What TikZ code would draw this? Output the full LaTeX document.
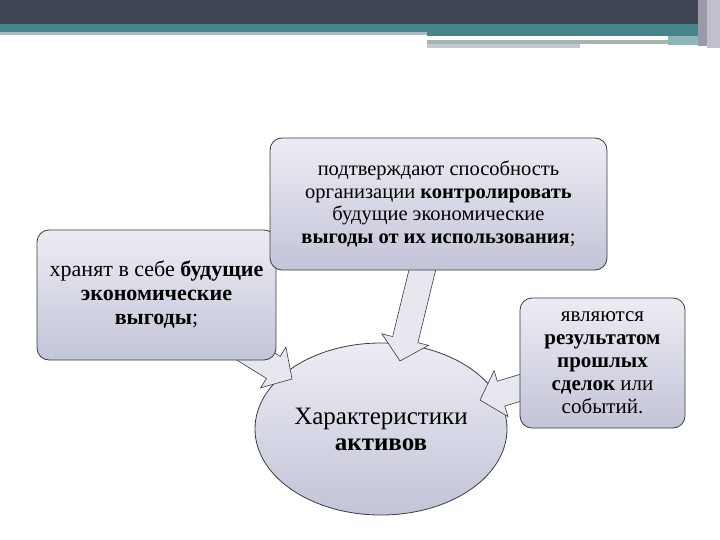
\documentclass[tikz,border=0pt]{standalone}
\usepackage{fontspec}
\setmainfont{Liberation Serif}
\usetikzlibrary{shapes,positioning,calc}
\definecolor{dfslate}{RGB}{63,68,84}
\definecolor{dfteal}{RGB}{70,133,137}
\definecolor{dfmist}{RGB}{169,188,192}
\definecolor{dfgrey}{RGB}{168,180,180}
\definecolor{dfpale}{RGB}{140,182,186}
\definecolor{dfside}{RGB}{192,192,204}
\definecolor{dfside2}{RGB}{154,154,170}
\definecolor{dfedge}{RGB}{60,60,64}
\definecolor{dflight}{RGB}{236,237,243}
\definecolor{dfdark}{RGB}{194,196,216}
\definecolor{dfarrow}{RGB}{230,231,239}
\tikzstyle{card} = [rectangle, rounded corners=12pt, draw=dfedge, line width=0.8pt, top color=dflight, bottom color=dfdark, align=center, inner sep=0pt]
\tikzstyle{core} = [ellipse, draw=dfedge, line width=0.8pt, top color=dflight, bottom color=dfdark, align=center, inner sep=0pt]
\tikzstyle{fat} = [draw=dfedge, line width=0.6pt, fill=dfarrow]
\newcommand{\fatarrow}[2]{\path[fat] let \p1=(#1), \p2=(#2), \n1={atan2(\y2-\y1,\x2-\x1)}, \n2={veclen(\x2-\x1,\y2-\y1)} in [shift={(\p1)}, rotate=\n1] (0pt,-13pt) -- (\n2-22pt,-13pt) -- (\n2-22pt,-24pt) -- (\n2,0pt) -- (\n2-22pt,24pt) -- (\n2-22pt,13pt) -- (0pt,13pt) -- cycle;}
\pgfdeclarelayer{bg}
\pgfdeclarelayer{mid}
\pgfsetlayers{bg,mid,main}

\begin{document}
\begin{tikzpicture}[x=1pt, y=-1pt]
\useasboundingbox (0,0) rectangle (720,540);
\begin{pgfonlayer}{bg}
\fill[white] (0,0) rectangle (720,540);

% Header bars
\fill[dfslate] (0,0) rectangle (703,24);
\fill[dfteal] (0,24) rectangle (703,32);
\fill[dfteal] (427,32) rectangle (703,36);
\fill[dfmist] (0,32) rectangle (427,35);
\fill[dfpale] (668,36) rectangle (703,45);
\fill[dfgrey] (427,40) rectangle (668,44);
\fill[dfgrey!70] (427,44) rectangle (580,48);
\fill[dfside2] (698,0) rectangle (707,46);
\fill[dfside] (707,0) rectangle (720,48);

% Centre
\node (assets) [core, minimum width=252pt, minimum height=172pt, font=\fontsize{25}{26}\selectfont] at (381,429) {Характеристики\\ \textbf{активов}};
\end{pgfonlayer}

% Feature boxes
\node (store) [card, minimum width=239pt, minimum height=130pt, font=\fontsize{22}{24}\selectfont] at (156.5,295) {хранят в себе \textbf{будущие}\\ \textbf{экономические}\\ \textbf{выгоды};};
\node (control) [card, minimum width=337pt, minimum height=132pt, font=\fontsize{20.5}{22.5}\selectfont] at (438.5,204) {подтверждают способность\\ организации \textbf{контролировать}\\ будущие экономические\\ \textbf{выгоды от их использования};};
\node (past) [card, minimum width=165pt, minimum height=130pt, font=\fontsize{21}{23}\selectfont] at (602.5,363) {являются\\ \textbf{результатом}\\ \textbf{прошлых}\\ \textbf{сделок} или\\ событий.};

% Arrows
\coordinate (tip1) at (292,379);
\coordinate (tip2) at (400,361);
\coordinate (tip3) at (480,400);
\begin{pgfonlayer}{mid}
\fatarrow{store}{tip1}
\fatarrow{control}{tip2}
\fatarrow{past}{tip3}
\end{pgfonlayer}
\end{tikzpicture}
\end{document}
